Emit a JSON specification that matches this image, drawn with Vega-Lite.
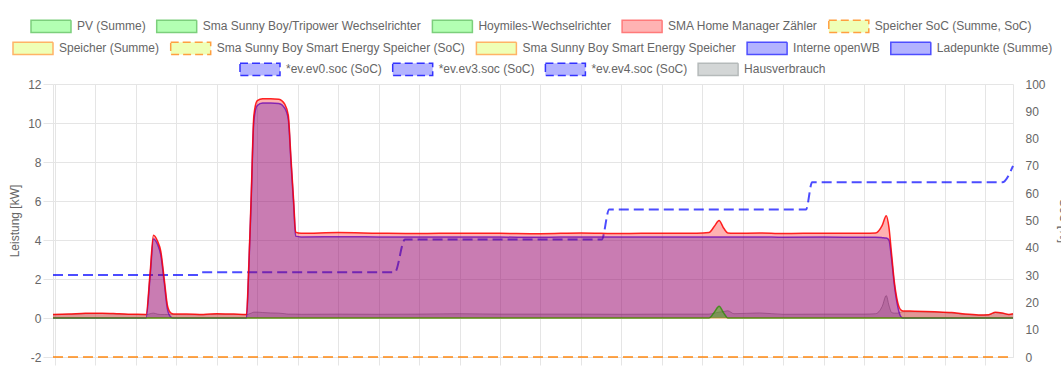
{
  "$schema": "https://vega.github.io/schema/vega-lite/v6.json",
  "width": 1061,
  "height": 370,
  "autosize": {"type": "fit", "contains": "padding"},
  "padding": {"left": 8, "top": 78, "right": -9, "bottom": 4},
  "background": "white",
  "config": {
    "font": "Liberation Sans",
    "view": {"stroke": null},
    "axis": {
      "labelFont": "Liberation Sans", "labelFontSize": 12, "labelColor": "#666",
      "titleFont": "Liberation Sans", "titleFontSize": 12, "titleFontWeight": "normal", "titleColor": "#666",
      "gridColor": "#e5e5e5", "domainColor": "#e5e5e5", "tickColor": "#e5e5e5"
    },
    "legend": {
      "direction": "horizontal",
      "symbolType": "M-1,-0.31H1V0.31H-1Z", "symbolSize": 1600, "symbolStrokeWidth": 1.5, "symbolOpacity": 1,
      "labelFont": "Liberation Sans", "labelFontSize": 12, "labelColor": "#666",
      "labelOffset": 5, "columnPadding": 7.7, "labelLimit": 400
    }
  },
  "datasets": {
    "kw": [
      {"t": "2024-06-01T23:57:00Z", "netz": 0.18, "lade": 0, "pv": 0, "haus": 0.18, "speicher": 0},
      {"t": "2024-06-02T00:20:00Z", "netz": 0.2, "lade": 0, "pv": 0, "haus": 0.19, "speicher": 0},
      {"t": "2024-06-02T00:45:00Z", "netz": 0.24, "lade": 0, "pv": 0, "haus": 0.22, "speicher": 0},
      {"t": "2024-06-02T01:10:00Z", "netz": 0.25, "lade": 0, "pv": 0, "haus": 0.23, "speicher": 0},
      {"t": "2024-06-02T01:35:00Z", "netz": 0.22, "lade": 0, "pv": 0, "haus": 0.2, "speicher": 0},
      {"t": "2024-06-02T02:00:00Z", "netz": 0.19, "lade": 0, "pv": 0, "haus": 0.17, "speicher": 0},
      {"t": "2024-06-02T02:15:00Z", "netz": 0.18, "lade": 0, "pv": 0, "haus": 0.17, "speicher": 0},
      {"t": "2024-06-02T02:21:00Z", "netz": 2.3, "lade": 2.1, "pv": 0, "haus": 0.22, "speicher": 0},
      {"t": "2024-06-02T02:26:00Z", "netz": 4.25, "lade": 4.05, "pv": 0, "haus": 0.25, "speicher": 0},
      {"t": "2024-06-02T02:32:00Z", "netz": 3.95, "lade": 3.78, "pv": 0, "haus": 0.2, "speicher": 0},
      {"t": "2024-06-02T02:37:00Z", "netz": 3.4, "lade": 3.22, "pv": 0, "haus": 0.18, "speicher": 0},
      {"t": "2024-06-02T02:42:00Z", "netz": 2.0, "lade": 1.82, "pv": 0, "haus": 0.18, "speicher": 0},
      {"t": "2024-06-02T02:47:00Z", "netz": 0.6, "lade": 0.42, "pv": 0, "haus": 0.18, "speicher": 0},
      {"t": "2024-06-02T02:52:00Z", "netz": 0.25, "lade": 0.05, "pv": 0, "haus": 0.18, "speicher": 0},
      {"t": "2024-06-02T02:56:00Z", "netz": 0.2, "lade": 0, "pv": 0, "haus": 0.18, "speicher": 0},
      {"t": "2024-06-02T03:15:00Z", "netz": 0.2, "lade": 0, "pv": 0, "haus": 0.17, "speicher": 0},
      {"t": "2024-06-02T03:40:00Z", "netz": 0.18, "lade": 0, "pv": 0, "haus": 0.16, "speicher": 0},
      {"t": "2024-06-02T04:00:00Z", "netz": 0.22, "lade": 0, "pv": 0, "haus": 0.2, "speicher": 0},
      {"t": "2024-06-02T04:25:00Z", "netz": 0.2, "lade": 0, "pv": 0, "haus": 0.19, "speicher": 0},
      {"t": "2024-06-02T04:44:00Z", "netz": 0.18, "lade": 0, "pv": 0, "haus": 0.17, "speicher": 0},
      {"t": "2024-06-02T04:47:00Z", "netz": 2.3, "lade": 2.1, "pv": 0, "haus": 0.2, "speicher": 0},
      {"t": "2024-06-02T04:51:00Z", "netz": 6.3, "lade": 6.05, "pv": 0, "haus": 0.25, "speicher": 0},
      {"t": "2024-06-02T04:55:00Z", "netz": 10.4, "lade": 10.15, "pv": 0, "haus": 0.3, "speicher": 0},
      {"t": "2024-06-02T05:00:00Z", "netz": 11.15, "lade": 10.9, "pv": 0, "haus": 0.3, "speicher": 0},
      {"t": "2024-06-02T05:08:00Z", "netz": 11.25, "lade": 11.02, "pv": 0, "haus": 0.28, "speicher": 0},
      {"t": "2024-06-02T05:20:00Z", "netz": 11.25, "lade": 11.03, "pv": 0, "haus": 0.26, "speicher": 0},
      {"t": "2024-06-02T05:32:00Z", "netz": 11.22, "lade": 11.0, "pv": 0, "haus": 0.25, "speicher": 0},
      {"t": "2024-06-02T05:41:00Z", "netz": 10.95, "lade": 10.75, "pv": 0, "haus": 0.22, "speicher": 0},
      {"t": "2024-06-02T05:46:00Z", "netz": 10.4, "lade": 10.2, "pv": 0, "haus": 0.2, "speicher": 0},
      {"t": "2024-06-02T05:50:00Z", "netz": 8.2, "lade": 8.0, "pv": 0, "haus": 0.2, "speicher": 0},
      {"t": "2024-06-02T05:54:00Z", "netz": 6.0, "lade": 5.8, "pv": 0, "haus": 0.2, "speicher": 0},
      {"t": "2024-06-02T05:57:00Z", "netz": 4.4, "lade": 4.2, "pv": 0, "haus": 0.2, "speicher": 0},
      {"t": "2024-06-02T06:05:00Z", "netz": 4.35, "lade": 4.16, "pv": 0, "haus": 0.19, "speicher": 0},
      {"t": "2024-06-02T07:00:00Z", "netz": 4.38, "lade": 4.17, "pv": 0, "haus": 0.2, "speicher": 0},
      {"t": "2024-06-02T08:00:00Z", "netz": 4.35, "lade": 4.16, "pv": 0, "haus": 0.19, "speicher": 0},
      {"t": "2024-06-02T09:00:00Z", "netz": 4.33, "lade": 4.15, "pv": 0, "haus": 0.2, "speicher": 0},
      {"t": "2024-06-02T10:00:00Z", "netz": 4.35, "lade": 4.16, "pv": 0, "haus": 0.22, "speicher": 0},
      {"t": "2024-06-02T11:00:00Z", "netz": 4.34, "lade": 4.15, "pv": 0, "haus": 0.2, "speicher": 0},
      {"t": "2024-06-02T12:00:00Z", "netz": 4.32, "lade": 4.14, "pv": 0, "haus": 0.2, "speicher": 0},
      {"t": "2024-06-02T13:00:00Z", "netz": 4.36, "lade": 4.16, "pv": 0, "haus": 0.2, "speicher": 0},
      {"t": "2024-06-02T14:00:00Z", "netz": 4.33, "lade": 4.15, "pv": 0, "haus": 0.19, "speicher": 0},
      {"t": "2024-06-02T15:00:00Z", "netz": 4.35, "lade": 4.16, "pv": 0, "haus": 0.2, "speicher": 0},
      {"t": "2024-06-02T15:52:00Z", "netz": 4.34, "lade": 4.15, "pv": 0, "haus": 0.2, "speicher": 0},
      {"t": "2024-06-02T16:10:00Z", "netz": 4.38, "lade": 4.15, "pv": 0, "haus": 0.2, "speicher": 0},
      {"t": "2024-06-02T16:18:00Z", "netz": 4.7, "lade": 4.15, "pv": 0.3, "haus": 0.25, "speicher": 0},
      {"t": "2024-06-02T16:25:00Z", "netz": 5.0, "lade": 4.15, "pv": 0.6, "haus": 0.3, "speicher": 0},
      {"t": "2024-06-02T16:32:00Z", "netz": 4.6, "lade": 4.15, "pv": 0.25, "haus": 0.33, "speicher": 0},
      {"t": "2024-06-02T16:38:00Z", "netz": 4.36, "lade": 4.15, "pv": 0, "haus": 0.37, "speicher": 0},
      {"t": "2024-06-02T16:47:00Z", "netz": 4.34, "lade": 4.15, "pv": 0, "haus": 0.22, "speicher": 0},
      {"t": "2024-06-02T17:25:00Z", "netz": 4.36, "lade": 4.16, "pv": 0, "haus": 0.26, "speicher": 0},
      {"t": "2024-06-02T18:00:00Z", "netz": 4.33, "lade": 4.14, "pv": 0, "haus": 0.19, "speicher": 0},
      {"t": "2024-06-02T19:00:00Z", "netz": 4.35, "lade": 4.15, "pv": 0, "haus": 0.2, "speicher": 0},
      {"t": "2024-06-02T20:00:00Z", "netz": 4.34, "lade": 4.14, "pv": 0, "haus": 0.2, "speicher": 0},
      {"t": "2024-06-02T20:17:00Z", "netz": 4.36, "lade": 4.14, "pv": 0, "haus": 0.22, "speicher": 0},
      {"t": "2024-06-02T20:27:00Z", "netz": 4.75, "lade": 4.12, "pv": 0, "haus": 0.6, "speicher": 0},
      {"t": "2024-06-02T20:33:00Z", "netz": 5.25, "lade": 4.1, "pv": 0, "haus": 1.15, "speicher": 0},
      {"t": "2024-06-02T20:37:00Z", "netz": 4.65, "lade": 4.0, "pv": 0, "haus": 0.65, "speicher": 0},
      {"t": "2024-06-02T20:41:00Z", "netz": 3.25, "lade": 3.0, "pv": 0, "haus": 0.28, "speicher": 0},
      {"t": "2024-06-02T20:45:00Z", "netz": 1.85, "lade": 1.7, "pv": 0, "haus": 0.25, "speicher": 0},
      {"t": "2024-06-02T20:50:00Z", "netz": 0.8, "lade": 0.6, "pv": 0, "haus": 0.25, "speicher": 0},
      {"t": "2024-06-02T20:55:00Z", "netz": 0.4, "lade": 0.05, "pv": 0, "haus": 0.3, "speicher": 0},
      {"t": "2024-06-02T20:58:00Z", "netz": 0.36, "lade": 0, "pv": 0, "haus": 0.32, "speicher": 0},
      {"t": "2024-06-02T21:15:00Z", "netz": 0.35, "lade": 0, "pv": 0, "haus": 0.32, "speicher": 0},
      {"t": "2024-06-02T21:45:00Z", "netz": 0.32, "lade": 0, "pv": 0, "haus": 0.3, "speicher": 0},
      {"t": "2024-06-02T22:10:00Z", "netz": 0.28, "lade": 0, "pv": 0, "haus": 0.26, "speicher": 0},
      {"t": "2024-06-02T22:30:00Z", "netz": 0.2, "lade": 0, "pv": 0, "haus": 0.18, "speicher": 0},
      {"t": "2024-06-02T22:50:00Z", "netz": 0.16, "lade": 0, "pv": 0, "haus": 0.15, "speicher": 0},
      {"t": "2024-06-02T23:05:00Z", "netz": 0.17, "lade": 0, "pv": 0, "haus": 0.16, "speicher": 0},
      {"t": "2024-06-02T23:15:00Z", "netz": 0.3, "lade": 0, "pv": 0, "haus": 0.28, "speicher": 0},
      {"t": "2024-06-02T23:25:00Z", "netz": 0.26, "lade": 0, "pv": 0, "haus": 0.24, "speicher": 0},
      {"t": "2024-06-02T23:35:00Z", "netz": 0.18, "lade": 0, "pv": 0, "haus": 0.17, "speicher": 0},
      {"t": "2024-06-02T23:41:00Z", "netz": 0.22, "lade": 0, "pv": 0, "haus": 0.2, "speicher": 0}
    ],
    "soc": [
      {"t": "2024-06-01T23:57:00Z", "ev0": 30, "speicherSoc": 0},
      {"t": "2024-06-02T03:32:00Z", "ev0": 30, "speicherSoc": 0},
      {"t": "2024-06-02T03:38:00Z", "ev0": 31, "speicherSoc": 0},
      {"t": "2024-06-02T08:24:00Z", "ev0": 31, "speicherSoc": 0},
      {"t": "2024-06-02T08:39:00Z", "ev0": 43, "speicherSoc": 0},
      {"t": "2024-06-02T13:31:00Z", "ev0": 43, "speicherSoc": 0},
      {"t": "2024-06-02T13:42:00Z", "ev0": 54, "speicherSoc": 0},
      {"t": "2024-06-02T18:34:00Z", "ev0": 54, "speicherSoc": 0},
      {"t": "2024-06-02T18:43:00Z", "ev0": 64, "speicherSoc": 0},
      {"t": "2024-06-02T23:25:00Z", "ev0": 64, "speicherSoc": 0},
      {"t": "2024-06-02T23:41:00Z", "ev0": 70, "speicherSoc": 0}
    ],
    "leg1": [
      {"serie": "PV (Summe)"},
      {"serie": "Sma Sunny Boy/Tripower Wechselrichter"},
      {"serie": "Hoymiles-Wechselrichter"},
      {"serie": "SMA Home Manager Zähler"},
      {"serie": "Speicher SoC (Summe, SoC)"}
    ],
    "leg2": [
      {"serie": "Speicher (Summe)"},
      {"serie": "Sma Sunny Boy Smart Energy Speicher (SoC)"},
      {"serie": "Sma Sunny Boy Smart Energy Speicher"},
      {"serie": "Interne openWB"},
      {"serie": "Ladepunkte (Summe)"}
    ],
    "leg3": [
      {"serie": "*ev.ev0.soc (SoC)"},
      {"serie": "*ev.ev3.soc (SoC)"},
      {"serie": "*ev.ev4.soc (SoC)"},
      {"serie": "Hausverbrauch"}
    ]
  },
  "layer": [
    {
      "data": {"name": "kw"},
      "mark": {"type": "area", "interpolate": "monotone", "fill": "rgba(120,128,128,0.3)", "opacity": 1, "fillOpacity": 1, "line": {"color": "rgba(110,118,118,0.55)", "strokeWidth": 1}},
      "encoding": {
        "x": {"field": "t", "type": "temporal", "scale": {"type": "utc", "domain": [1717286220000, 1717371660000], "nice": false}, "axis": {"title": null, "labels": false, "grid": true, "tickCount": 24, "tickSize": 8}},
        "y": {"field": "haus", "type": "quantitative", "scale": {"domain": [-2, 12], "nice": false}, "axis": {"orient": "left", "title": "Leistung [kW]", "values": [-2, 0, 2, 4, 6, 8, 10, 12], "labelExpr": "'' + datum.value", "grid": true, "tickSize": 10, "labelPadding": 2, "titlePadding": 6}}
      }
    },
    {
      "data": {"name": "soc"},
      "mark": {"type": "line", "interpolate": "monotone", "stroke": "rgba(0,0,255,0.7)", "strokeWidth": 2, "strokeDash": [10, 5], "opacity": 1},
      "encoding": {
        "x": {"field": "t", "type": "temporal", "scale": {"type": "utc", "domain": [1717286220000, 1717371660000], "nice": false}, "axis": {"title": null, "labels": false, "grid": true, "tickCount": 24, "tickSize": 8}},
        "y": {"field": "ev0", "type": "quantitative", "scale": {"domain": [0, 100], "nice": false}, "axis": {"orient": "right", "title": "SoC [%]", "values": [0, 10, 20, 30, 40, 50, 60, 70, 80, 90, 100], "grid": false, "ticks": false, "labelPadding": 12, "titlePadding": 11}}
      }
    },
    {
      "data": {"name": "kw"},
      "mark": {"type": "area", "interpolate": "monotone", "fill": "rgba(0,0,255,0.3)", "opacity": 1, "fillOpacity": 1, "line": {"color": "rgba(40,0,255,0.75)", "strokeWidth": 1.5}},
      "encoding": {
        "x": {"field": "t", "type": "temporal", "scale": {"type": "utc", "domain": [1717286220000, 1717371660000], "nice": false}, "axis": {"title": null, "labels": false, "grid": true, "tickCount": 24, "tickSize": 8}},
        "y": {"field": "lade", "type": "quantitative", "scale": {"domain": [-2, 12], "nice": false}, "axis": null}
      }
    },
    {
      "data": {"name": "kw"},
      "mark": {"type": "line", "interpolate": "monotone", "stroke": "rgba(255,140,0,0.6)", "strokeWidth": 1, "opacity": 1},
      "encoding": {
        "x": {"field": "t", "type": "temporal", "scale": {"type": "utc", "domain": [1717286220000, 1717371660000], "nice": false}, "axis": {"title": null, "labels": false, "grid": true, "tickCount": 24, "tickSize": 8}},
        "y": {"field": "speicher", "type": "quantitative", "scale": {"domain": [-2, 12], "nice": false}, "axis": null}
      }
    },
    {
      "data": {"name": "soc"},
      "mark": {"type": "line", "interpolate": "monotone", "stroke": "rgba(255,128,0,0.7)", "strokeWidth": 2, "strokeDash": [10, 5], "opacity": 1},
      "encoding": {
        "x": {"field": "t", "type": "temporal", "scale": {"type": "utc", "domain": [1717286220000, 1717371660000], "nice": false}, "axis": {"title": null, "labels": false, "grid": true, "tickCount": 24, "tickSize": 8}},
        "y": {"field": "speicherSoc", "type": "quantitative", "scale": {"domain": [0, 100], "nice": false}, "axis": null}
      }
    },
    {
      "data": {"name": "kw"},
      "mark": {"type": "area", "interpolate": "monotone", "fill": "rgba(255,0,0,0.3)", "opacity": 1, "fillOpacity": 1, "line": {"color": "rgba(255,0,0,0.85)", "strokeWidth": 1.5}},
      "encoding": {
        "x": {"field": "t", "type": "temporal", "scale": {"type": "utc", "domain": [1717286220000, 1717371660000], "nice": false}, "axis": {"title": null, "labels": false, "grid": true, "tickCount": 24, "tickSize": 8}},
        "y": {"field": "netz", "type": "quantitative", "scale": {"domain": [-2, 12], "nice": false}, "axis": null}
      }
    },
    {
      "data": {"name": "kw"},
      "mark": {"type": "area", "interpolate": "monotone", "fill": "rgba(60,200,0,0.45)", "opacity": 1, "fillOpacity": 1, "line": {"color": "rgba(40,140,0,0.75)", "strokeWidth": 1.5}},
      "encoding": {
        "x": {"field": "t", "type": "temporal", "scale": {"type": "utc", "domain": [1717286220000, 1717371660000], "nice": false}, "axis": {"title": null, "labels": false, "grid": true, "tickCount": 24, "tickSize": 8}},
        "y": {"field": "pv", "type": "quantitative", "scale": {"domain": [-2, 12], "nice": false}, "axis": null}
      }
    },
    {
      "data": {"name": "leg1"},
      "transform": [{"filter": "false"}],
      "mark": {"type": "point", "filled": true, "opacity": 1},
      "encoding": {
        "fill": {"field": "serie", "type": "nominal", "scale": {"domain": ["PV (Summe)", "Sma Sunny Boy/Tripower Wechselrichter", "Hoymiles-Wechselrichter", "SMA Home Manager Zähler", "Speicher SoC (Summe, SoC)"], "range": ["#b3ffb3", "#b3ffb3", "#b3ffb3", "#ffb3b3", "#efffb6"]}, "legend": {"orient": "none", "title": null, "legendX": -23, "legendY": -79}},
        "stroke": {"field": "serie", "type": "nominal", "scale": {"domain": ["PV (Summe)", "Sma Sunny Boy/Tripower Wechselrichter", "Hoymiles-Wechselrichter", "SMA Home Manager Zähler", "Speicher SoC (Summe, SoC)"], "range": ["#7ccf7c", "#7ccf7c", "#7ccf7c", "#ff7a7a", "#ff9f40"]}, "legend": {"orient": "none", "title": null, "legendX": -23, "legendY": -79}},
        "strokeDash": {"field": "serie", "type": "nominal", "scale": {"domain": ["PV (Summe)", "Sma Sunny Boy/Tripower Wechselrichter", "Hoymiles-Wechselrichter", "SMA Home Manager Zähler", "Speicher SoC (Summe, SoC)"], "range": [[1, 0], [1, 0], [1, 0], [1, 0], [8, 4]]}, "legend": {"orient": "none", "title": null, "legendX": -23, "legendY": -79}}
      }
    },
    {
      "data": {"name": "leg2"},
      "transform": [{"filter": "false"}],
      "mark": {"type": "point", "filled": true, "opacity": 1},
      "encoding": {
        "fill": {"field": "serie", "type": "nominal", "scale": {"domain": ["Speicher (Summe)", "Sma Sunny Boy Smart Energy Speicher (SoC)", "Sma Sunny Boy Smart Energy Speicher", "Interne openWB", "Ladepunkte (Summe)"], "range": ["#efffb6", "#efffb6", "#efffb6", "#b3b3ff", "#b3b3ff"]}, "legend": {"orient": "none", "title": null, "legendX": -41, "legendY": -57}},
        "stroke": {"field": "serie", "type": "nominal", "scale": {"domain": ["Speicher (Summe)", "Sma Sunny Boy Smart Energy Speicher (SoC)", "Sma Sunny Boy Smart Energy Speicher", "Interne openWB", "Ladepunkte (Summe)"], "range": ["#ffb366", "#ff9f40", "#ffb366", "#4d4dff", "#4d4dff"]}, "legend": {"orient": "none", "title": null, "legendX": -41, "legendY": -57}},
        "strokeDash": {"field": "serie", "type": "nominal", "scale": {"domain": ["Speicher (Summe)", "Sma Sunny Boy Smart Energy Speicher (SoC)", "Sma Sunny Boy Smart Energy Speicher", "Interne openWB", "Ladepunkte (Summe)"], "range": [[1, 0], [8, 4], [1, 0], [1, 0], [1, 0]]}, "legend": {"orient": "none", "title": null, "legendX": -41, "legendY": -57}}
      }
    },
    {
      "data": {"name": "leg3"},
      "transform": [{"filter": "false"}],
      "mark": {"type": "point", "filled": true, "opacity": 1},
      "encoding": {
        "fill": {"field": "serie", "type": "nominal", "scale": {"domain": ["*ev.ev0.soc (SoC)", "*ev.ev3.soc (SoC)", "*ev.ev4.soc (SoC)", "Hausverbrauch"], "range": ["#b3b3ff", "#b3b3ff", "#b3b3ff", "#d3d6d6"]}, "legend": {"orient": "none", "title": null, "legendX": 186, "legendY": -36}},
        "stroke": {"field": "serie", "type": "nominal", "scale": {"domain": ["*ev.ev0.soc (SoC)", "*ev.ev3.soc (SoC)", "*ev.ev4.soc (SoC)", "Hausverbrauch"], "range": ["#3333ff", "#3333ff", "#3333ff", "#b5baba"]}, "legend": {"orient": "none", "title": null, "legendX": 186, "legendY": -36}},
        "strokeDash": {"field": "serie", "type": "nominal", "scale": {"domain": ["*ev.ev0.soc (SoC)", "*ev.ev3.soc (SoC)", "*ev.ev4.soc (SoC)", "Hausverbrauch"], "range": [[8, 4], [8, 4], [8, 4], [1, 0]]}, "legend": {"orient": "none", "title": null, "legendX": 186, "legendY": -36}}
      }
    }
  ],
  "resolve": {"scale": {"y": "independent", "fill": "independent", "stroke": "independent", "strokeDash": "independent"}}
}
